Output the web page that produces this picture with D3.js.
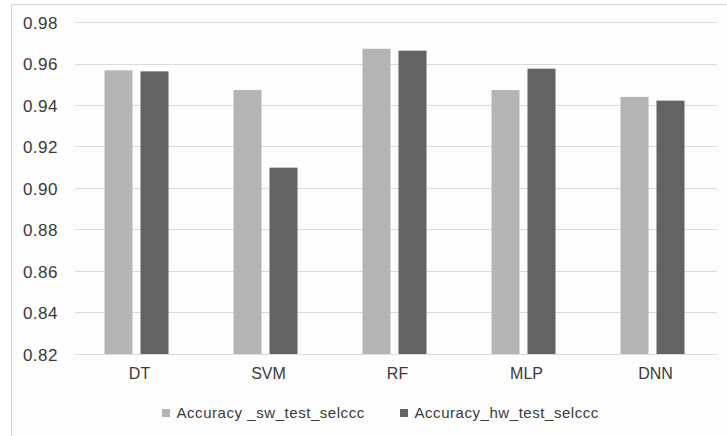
<!DOCTYPE html>
<html>
<head>
<meta charset="utf-8">
<script src="https://cdn.jsdelivr.net/npm/d3@7"></script>
<style>
  html, body { margin: 0; padding: 0; background: #ffffff; }
  svg { display: block; font-family: "Liberation Sans", Arial, sans-serif; }
</style>
</head>
<body>
<svg id="chart" width="727" height="436"></svg>
<script>
// Model names along the x axis
const models = ["DT", "SVM", "RF", "MLP", "DNN"];
// Accuracy of each model, software vs hardware test set
const swAccuracy = [0.9567, 0.9472, 0.9671, 0.9472, 0.9439];
const hwAccuracy = [0.9562, 0.9098, 0.9662, 0.9575, 0.9421];
const seriesNames = ["Accuracy _sw_test_selccc", "Accuracy_hw_test_selccc"];
const yTicks = [0.82, 0.84, 0.86, 0.88, 0.90, 0.92, 0.94, 0.96, 0.98];

const colors = ["#b4b4b4", "#636363"];
const textColor = "#3a3a3a";

const svg = d3.select("#chart");

// chart frame
svg.append("rect")
  .attr("x", 11.5).attr("y", 4.5)
  .attr("width", 740).attr("height", 440)
  .attr("fill", "#fdfdfd")
  .attr("stroke", "#d6d6d6");

const plot = { left: 72, right: 717, top: 22, bottom: 354 };

const x = d3.scaleBand().domain(models).range([plot.left, plot.right]);
const y = d3.scaleLinear().domain([0.82, 0.98]).range([plot.bottom, plot.top]);

// gridlines
svg.append("g")
  .selectAll("line")
  .data(yTicks)
  .join("line")
  .attr("x1", plot.left + 3).attr("x2", plot.right)
  .attr("y1", d => Math.round(y(d)) + 0.5).attr("y2", d => Math.round(y(d)) + 0.5)
  .attr("stroke", "#dcdcdc").attr("stroke-width", 1);

// y axis labels
const yAxis = d3.axisLeft(y).tickValues(yTicks).tickFormat(d3.format(".2f")).tickSize(0).tickPadding(0);
const yg = svg.append("g").attr("transform", `translate(58,0)`).call(yAxis);
yg.select(".domain").remove();
yg.selectAll("text")
  .attr("fill", textColor)
  .style("font-size", "17px")
  .style("letter-spacing", "0.5px")
  .attr("dy", "0.36em");

// x axis labels
const xAxis = d3.axisBottom(x).tickSize(0).tickPadding(0);
const xg = svg.append("g").attr("transform", `translate(3,368)`).call(xAxis);
xg.select(".domain").remove();
xg.selectAll("text")
  .attr("fill", textColor)
  .style("font-size", "16px")
  .attr("dy", "0.71em");

// bars
const barW = 28, gap = 8;
const series = [swAccuracy, hwAccuracy];
series.forEach((vals, si) => {
  svg.append("g")
    .selectAll("rect")
    .data(vals)
    .join("rect")
    .attr("x", (d, i) => x(models[i]) + x.bandwidth() / 2 - barW - gap / 2 + si * (barW + gap))
    .attr("y", d => y(d))
    .attr("width", barW)
    .attr("height", d => y(0.82) - y(d))
    .attr("fill", colors[si]);
});

// legend
const legendItems = [
  { name: seriesNames[0], color: colors[0], x: 162 },
  { name: seriesNames[1], color: colors[1], x: 400 }
];
const lg = svg.append("g");
legendItems.forEach(it => {
  lg.append("rect")
    .attr("x", it.x).attr("y", 409)
    .attr("width", 8).attr("height", 8)
    .attr("fill", it.color);
  lg.append("text")
    .attr("x", it.x + 14.5).attr("y", 412.5)
    .attr("dy", "0.36em")
    .attr("fill", textColor)
    .style("font-size", "15px")
    .style("letter-spacing", "0.55px")
    .text(it.name);
});
</script>
</body>
</html>
